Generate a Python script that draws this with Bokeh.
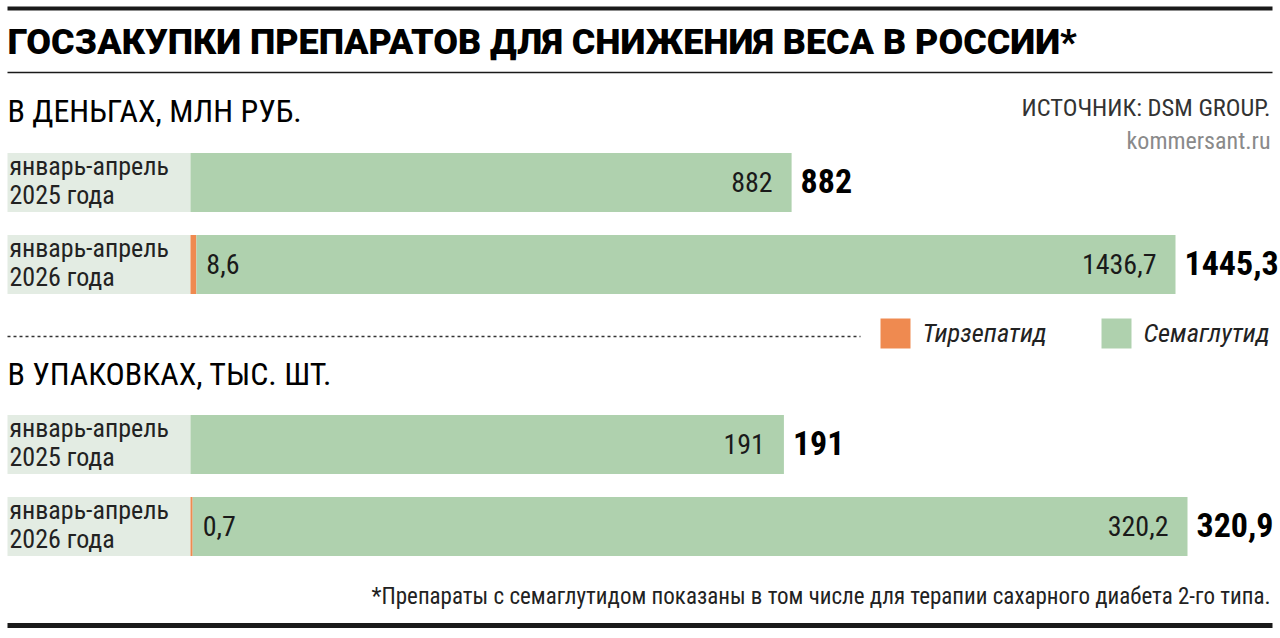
from bokeh.plotting import figure
from bokeh.models import Range1d, ColumnDataSource, Label
from bokeh.core.properties import value
from bokeh.embed import file_html
from bokeh.resources import INLINE
import numpy as np

# ---------------- data ----------------
title = "ГОСЗАКУПКИ ПРЕПАРАТОВ ДЛЯ СНИЖЕНИЯ ВЕСА В РОССИИ*"
section_titles = ["В ДЕНЬГАХ, МЛН РУБ.", "В УПАКОВКАХ, ТЫС. ШТ."]
source_text = "ИСТОЧНИК: DSM GROUP."
site_text = "kommersant.ru"
footnote = "*Препараты с семаглутидом показаны в том числе для терапии сахарного диабета 2-го типа."
periods = ["январь-апрель\n2025 года", "январь-апрель\n2026 года"]
series = ["Тирзепатид", "Семаглутид"]

money_tirzepatide = [0.0, 8.6]
money_semaglutide = [882.0, 1436.7]
packs_tirzepatide = [0.0, 0.7]
packs_semaglutide = [191.0, 320.2]

# ---------------- style ----------------
W, H = 1280, 638
ORANGE = "#ef8a50"
GREEN = "#afd1ae"
LABEL_BG = "#e3ece3"
INK = "#1a1a1a"
COND = "Roboto Condensed, Roboto"
HEAVY = "Roboto Black, Roboto"

def bl(y, size):
    # empirical baseline correction for the svg text layout
    return y - 0.39 * size

p = figure(width=W, height=H, x_range=Range1d(0, W), y_range=Range1d(H, 0),
           output_backend="svg", toolbar_location=None,
           x_axis_location=None, y_axis_location=None, min_border=0)
p.outline_line_color = None
p.background_fill_color = "white"
p.border_fill_color = "white"
p.xgrid.visible = False
p.ygrid.visible = False

BAR_X0 = 190.0
BAR_H = 59
sections = [
    dict(name="money", tirz=money_tirzepatide, sema=money_semaglutide,
         px_end=1175.0, rows=[182, 264], head_y=123),
    dict(name="packs", tirz=packs_tirzepatide, sema=packs_semaglutide,
         px_end=1187.0, rows=[444, 526], head_y=386),
]

def fmt(v):
    return ("%g" % round(v, 1)).replace(".", ",")

extra = {}
for s in sections:
    tirz = np.array(s["tirz"]); sema = np.array(s["sema"])
    total = tirz + sema
    k = (s["px_end"] - BAR_X0) / total.max()
    extra[s["name"]] = Range1d(-BAR_X0 / k, (W - BAR_X0) / k)
p.extra_x_ranges = extra

# decorative rules
p.segment(x0=[7, 7, 7], y0=[8, 72, 625], x1=[1272, 1272, 1272], y1=[8, 72, 625],
          line_color=INK, line_width=[4, 1.5, 5])
p.segment(x0=[7], y0=[336], x1=[860], y1=[336], line_color="#333333",
          line_width=1.3, line_dash="3 3")

p.add_layout(Label(x=7, y=bl(56, 36), text=title, text_font=HEAVY, text_font_style="bold",
                   text_font_size="35.9px", text_color="black", text_baseline="alphabetic"))
p.add_layout(Label(x=1270, y=bl(117, 24.5), text=source_text, text_font=COND,
                   text_font_size="24.5px", text_color="#333333", text_align="right",
                   text_baseline="alphabetic"))
p.add_layout(Label(x=1270, y=bl(150, 24), text=site_text, text_font=COND,
                   text_font_size="24px", text_color="#8a8a8a", text_align="right",
                   text_baseline="alphabetic"))
p.add_layout(Label(x=1270, y=bl(605, 23), text=footnote, text_font=COND,
                   text_font_size="23px", text_color="#222222", text_align="right",
                   text_baseline="alphabetic"))

IN_SIZE, TOT_SIZE, CAT_SIZE, HEAD_SIZE = 28, 34, 26, 32
for s, head in zip(sections, section_titles):
    p.add_layout(Label(x=7, y=bl(s["head_y"], HEAD_SIZE), text=head, text_font=COND,
                       text_font_size=f"{HEAD_SIZE}px", text_color="black",
                       text_baseline="alphabetic"))
    tirz = np.array(s["tirz"]); sema = np.array(s["sema"])
    total = tirz + sema
    ys = np.array(s["rows"], dtype=float)
    line1 = [t.split("\n")[0] for t in periods]
    line2 = [t.split("\n")[1] for t in periods]
    # category label background
    p.hbar(y=ys, left=7, right=BAR_X0, height=BAR_H, fill_color=LABEL_BG, line_color=None)
    p.text(x=9, y=bl(ys - 6.5, CAT_SIZE), text=line1, text_font=value(COND),
           text_font_size=f"{CAT_SIZE}px", text_color="#222222", text_baseline="alphabetic")
    p.text(x=9, y=bl(ys + 23, CAT_SIZE), text=line2, text_font=value(COND),
           text_font_size=f"{CAT_SIZE}px", text_color="#222222", text_baseline="alphabetic")

    src = ColumnDataSource(dict(y=ys, y_in=bl(ys + 0.36 * IN_SIZE, IN_SIZE),
                                y_tot=bl(ys + 0.36 * TOT_SIZE, TOT_SIZE),
                                t0=np.zeros_like(tirz), t1=tirz, s1=total,
                                sema_lbl=[fmt(v) for v in sema],
                                total_lbl=[fmt(v) for v in total]))
    p.hbar(y="y", left="t0", right="t1", height=BAR_H, fill_color=ORANGE, line_color=None,
           source=src, x_range_name=s["name"])
    p.hbar(y="y", left="t1", right="s1", height=BAR_H, fill_color=GREEN, line_color=None,
           source=src, x_range_name=s["name"])
    p.text(x="s1", y="y_in", text="sema_lbl", source=src, x_range_name=s["name"],
           x_offset=-19, text_align="right", text_baseline="alphabetic",
           text_font=value(COND), text_font_size=f"{IN_SIZE}px", text_color=INK)
    p.text(x="s1", y="y_tot", text="total_lbl", source=src, x_range_name=s["name"],
           x_offset=9, text_align="left", text_baseline="alphabetic",
           text_font=value(COND), text_font_style="bold", text_font_size=f"{TOT_SIZE}px",
           text_color="black")
    mask = tirz > 0
    tsrc = ColumnDataSource(dict(x=tirz[mask], y=bl(ys[mask] + 0.36 * IN_SIZE, IN_SIZE),
                                 lbl=[fmt(v) for v in tirz[mask]]))
    p.text(x="x", y="y", text="lbl", source=tsrc, x_range_name=s["name"], x_offset=10,
           text_align="left", text_baseline="alphabetic",
           text_font=value(COND), text_font_size=f"{IN_SIZE}px", text_color=INK)

# legend
leg_x = [880, 1101]
p.rect(x=[x + 15 for x in leg_x], y=[333, 333], width=30, height=30,
       fill_color=[ORANGE, GREEN], line_color=None)
for x, name in zip(leg_x, series):
    p.add_layout(Label(x=x + 42, y=bl(342, 26.5), text=name, text_font=COND,
                       text_font_style="italic", text_font_size="26.5px",
                       text_color="#222222", text_baseline="alphabetic"))

open("out.html", "w").write(file_html(p, INLINE))
